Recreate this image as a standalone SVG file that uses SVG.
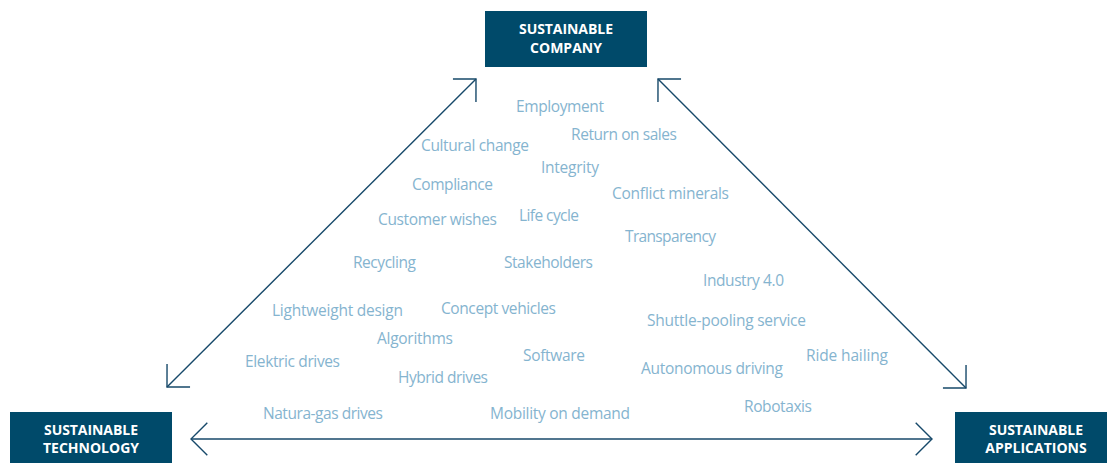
<svg xmlns="http://www.w3.org/2000/svg" width="1107" height="463" viewBox="0 0 1107 463">
<defs>
<style>
.box{fill:#004a6a}
.bt{font-family:"Open Sans","Liberation Sans",sans-serif;font-weight:bold;font-size:14px;fill:#ffffff;text-anchor:middle}
.lbl{font-family:"Open Sans","Liberation Sans",sans-serif;font-size:15.5px;fill:#85b4cf}
.con{stroke:#17496a;stroke-width:1.4;fill:none}
</style>
<marker id="ah" markerUnits="userSpaceOnUse" viewBox="-20 -20 40 40" markerWidth="40" markerHeight="40" refX="0" refY="0" orient="auto-start-reverse">
<path d="M-16.3,-16.3 L0,0 L-16.3,16.3" fill="none" stroke="#17496a" stroke-width="1.4"/>
</marker>
</defs>
<rect width="1107" height="463" fill="#ffffff"/>
<g id="connectors">
<path class="con" d="M167,387 L476,79" marker-start="url(#ah)" marker-end="url(#ah)"/>
<path class="con" d="M658,79 L966,388" marker-start="url(#ah)" marker-end="url(#ah)"/>
<path class="con" d="M191,439 L932,439" marker-start="url(#ah)" marker-end="url(#ah)"/>
</g>
<g id="company">
<rect class="box" x="485" y="11" width="162" height="56"/>
<text class="bt" x="566" y="33.5" textLength="94">SUSTAINABLE</text>
<text class="bt" x="566" y="53">COMPANY</text>
</g>
<g id="technology">
<rect class="box" x="10" y="412" width="162" height="56"/>
<text class="bt" x="91" y="435" textLength="94">SUSTAINABLE</text>
<text class="bt" x="91" y="453">TECHNOLOGY</text>
</g>
<g id="applications">
<rect class="box" x="955" y="412" width="162" height="56"/>
<text class="bt" x="1036" y="435" textLength="94">SUSTAINABLE</text>
<text class="bt" x="1036" y="453">APPLICATIONS</text>
</g>
<g id="labels">
<text class="lbl" x="516" y="112" textLength="88">Employment</text>
<text class="lbl" x="571" y="139.5" textLength="106">Return on sales</text>
<text class="lbl" x="421" y="150.5" textLength="108">Cultural change</text>
<text class="lbl" x="541" y="172.5" textLength="58">Integrity</text>
<text class="lbl" x="412" y="189.5" textLength="81">Compliance</text>
<text class="lbl" x="612" y="198.5" textLength="117">Conflict minerals</text>
<text class="lbl" x="378" y="225" textLength="119">Customer wishes</text>
<text class="lbl" x="519" y="220.5" textLength="60">Life cycle</text>
<text class="lbl" x="625" y="241.5" textLength="91">Transparency</text>
<text class="lbl" x="504" y="267.5" textLength="89">Stakeholders</text>
<text class="lbl" x="353" y="267.5" textLength="63">Recycling</text>
<text class="lbl" x="703" y="286" textLength="81">Industry 4.0</text>
<text class="lbl" x="272" y="316" textLength="131">Lightweight design</text>
<text class="lbl" x="441" y="314" textLength="115">Concept vehicles</text>
<text class="lbl" x="647" y="326" textLength="159">Shuttle-pooling service</text>
<text class="lbl" x="377" y="344" textLength="76">Algorithms</text>
<text class="lbl" x="245" y="366.5" textLength="95">Elektric drives</text>
<text class="lbl" x="523" y="361" textLength="62">Software</text>
<text class="lbl" x="806" y="360.5" textLength="82">Ride hailing</text>
<text class="lbl" x="641" y="373.5" textLength="142">Autonomous driving</text>
<text class="lbl" x="398" y="382.5" textLength="90">Hybrid drives</text>
<text class="lbl" x="263" y="419" textLength="120">Natura-gas drives</text>
<text class="lbl" x="490" y="419" textLength="140">Mobility on demand</text>
<text class="lbl" x="744" y="411.5" textLength="68">Robotaxis</text>
</g>
</svg>
